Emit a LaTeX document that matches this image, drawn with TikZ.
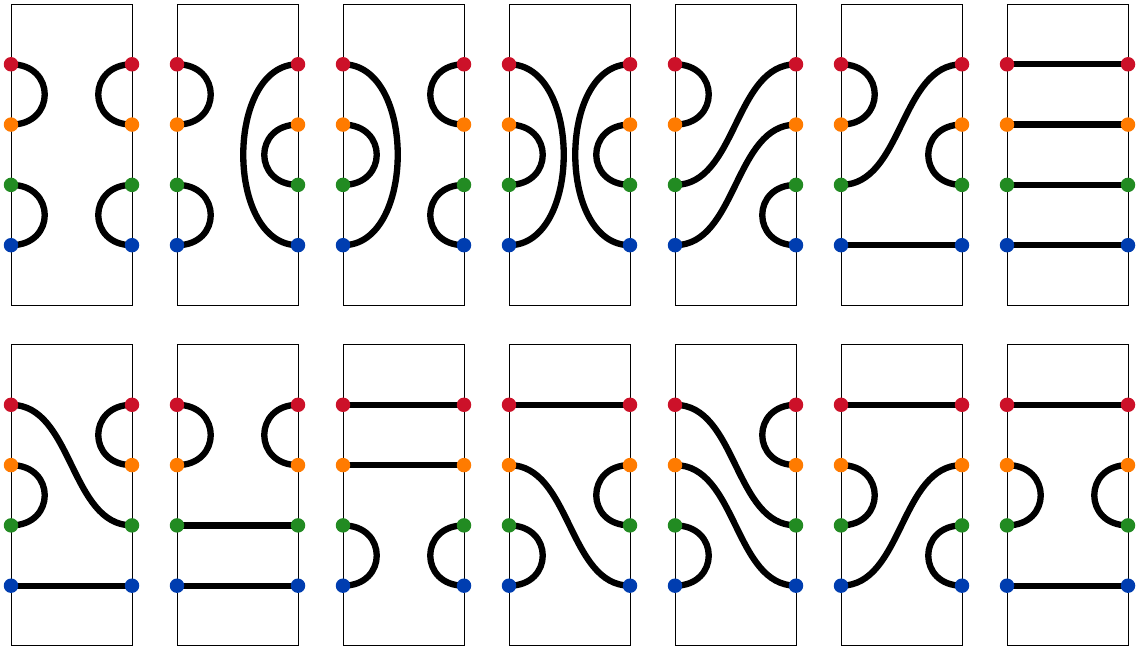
\documentclass[tikz,border=0pt]{standalone}
\usetikzlibrary{backgrounds}
\definecolor{pinred}{RGB}{204,17,41}
\definecolor{pinorange}{RGB}{255,123,0}
\definecolor{pingreen}{RGB}{34,139,34}
\definecolor{pinblue}{RGB}{0,61,176}
\tikzset{
	frame/.style={draw=black, line width=0.5pt},
	dot/.style={circle, fill=#1, inner sep=0pt, minimum size=0.29cm},
	strand/.style={draw=black, line width=3.6pt},
}
\begin{document}
\begin{tikzpicture}[x=0.02cm, y=-0.02cm]
	\useasboundingbox (0,0) rectangle (1136,651);
	% Frames and pins:
	\foreach \n in {1,...,14}{
		\pgfmathtruncatemacro{\c}{mod(\n-1,7)}
		\pgfmathtruncatemacro{\r}{div(\n-1,7)}
		\pgfmathsetmacro{\xa}{11+166*\c}
		\pgfmathsetmacro{\ya}{4+340.5*\r}
		\begin{pgfonlayer}{background}
			\draw[frame] (\xa,\ya) rectangle +(121,301);
		\end{pgfonlayer}
		\foreach \k/\col in {1/pinred, 2/pinorange, 3/pingreen, 4/pinblue}{
			\node[dot=\col] (p\n l\k) at (\xa, \ya+60.3*\k) {};
			\node[dot=\col] (p\n r\k) at (\xa+121, \ya+60.3*\k) {};
		}
	}
	% Strands:
	\begin{pgfonlayer}{background}
	% 1
	\draw[strand] (p1l1.center) .. controls +(45,0) and +(45,0) .. (p1l2.center);
	\draw[strand] (p1l3.center) .. controls +(45,0) and +(45,0) .. (p1l4.center);
	\draw[strand] (p1r1.center) .. controls +(-45,0) and +(-45,0) .. (p1r2.center);
	\draw[strand] (p1r3.center) .. controls +(-45,0) and +(-45,0) .. (p1r4.center);
	% 2
	\draw[strand] (p2l1.center) .. controls +(45,0) and +(45,0) .. (p2l2.center);
	\draw[strand] (p2l3.center) .. controls +(45,0) and +(45,0) .. (p2l4.center);
	\draw[strand] (p2r1.center) .. controls +(-73,0) and +(-73,0) .. (p2r4.center);
	\draw[strand] (p2r2.center) .. controls +(-45,0) and +(-45,0) .. (p2r3.center);
	% 3
	\draw[strand] (p3l1.center) .. controls +(73,0) and +(73,0) .. (p3l4.center);
	\draw[strand] (p3l2.center) .. controls +(45,0) and +(45,0) .. (p3l3.center);
	\draw[strand] (p3r1.center) .. controls +(-45,0) and +(-45,0) .. (p3r2.center);
	\draw[strand] (p3r3.center) .. controls +(-45,0) and +(-45,0) .. (p3r4.center);
	% 4
	\draw[strand] (p4l1.center) .. controls +(73,0) and +(73,0) .. (p4l4.center);
	\draw[strand] (p4l2.center) .. controls +(45,0) and +(45,0) .. (p4l3.center);
	\draw[strand] (p4r1.center) .. controls +(-73,0) and +(-73,0) .. (p4r4.center);
	\draw[strand] (p4r2.center) .. controls +(-45,0) and +(-45,0) .. (p4r3.center);
	% 5
	\draw[strand] (p5l1.center) .. controls +(45,0) and +(45,0) .. (p5l2.center);
	\draw[strand] (p5l3.center) .. controls +(62,0) and +(-62,0) .. (p5r1.center);
	\draw[strand] (p5l4.center) .. controls +(62,0) and +(-62,0) .. (p5r2.center);
	\draw[strand] (p5r3.center) .. controls +(-45,0) and +(-45,0) .. (p5r4.center);
	% 6
	\draw[strand] (p6l1.center) .. controls +(45,0) and +(45,0) .. (p6l2.center);
	\draw[strand] (p6l3.center) .. controls +(62,0) and +(-62,0) .. (p6r1.center);
	\draw[strand] (p6r2.center) .. controls +(-45,0) and +(-45,0) .. (p6r3.center);
	\draw[strand] (p6l4.center) -- (p6r4.center);
	% 7
	\foreach \k in {1,...,4}
		\draw[strand] (p7l\k.center) -- (p7r\k.center);
	% 8
	\draw[strand] (p8l1.center) .. controls +(62,0) and +(-62,0) .. (p8r3.center);
	\draw[strand] (p8r1.center) .. controls +(-45,0) and +(-45,0) .. (p8r2.center);
	\draw[strand] (p8l2.center) .. controls +(45,0) and +(45,0) .. (p8l3.center);
	\draw[strand] (p8l4.center) -- (p8r4.center);
	% 9
	\draw[strand] (p9l1.center) .. controls +(45,0) and +(45,0) .. (p9l2.center);
	\draw[strand] (p9r1.center) .. controls +(-45,0) and +(-45,0) .. (p9r2.center);
	\draw[strand] (p9l3.center) -- (p9r3.center);
	\draw[strand] (p9l4.center) -- (p9r4.center);
	% 10
	\draw[strand] (p10l1.center) -- (p10r1.center);
	\draw[strand] (p10l2.center) -- (p10r2.center);
	\draw[strand] (p10l3.center) .. controls +(45,0) and +(45,0) .. (p10l4.center);
	\draw[strand] (p10r3.center) .. controls +(-45,0) and +(-45,0) .. (p10r4.center);
	% 11
	\draw[strand] (p11l1.center) -- (p11r1.center);
	\draw[strand] (p11l2.center) .. controls +(62,0) and +(-62,0) .. (p11r4.center);
	\draw[strand] (p11r2.center) .. controls +(-45,0) and +(-45,0) .. (p11r3.center);
	\draw[strand] (p11l3.center) .. controls +(45,0) and +(45,0) .. (p11l4.center);
	% 12
	\draw[strand] (p12l1.center) .. controls +(62,0) and +(-62,0) .. (p12r3.center);
	\draw[strand] (p12l2.center) .. controls +(62,0) and +(-62,0) .. (p12r4.center);
	\draw[strand] (p12r1.center) .. controls +(-45,0) and +(-45,0) .. (p12r2.center);
	\draw[strand] (p12l3.center) .. controls +(45,0) and +(45,0) .. (p12l4.center);
	% 13
	\draw[strand] (p13l1.center) -- (p13r1.center);
	\draw[strand] (p13l2.center) .. controls +(45,0) and +(45,0) .. (p13l3.center);
	\draw[strand] (p13l4.center) .. controls +(62,0) and +(-62,0) .. (p13r2.center);
	\draw[strand] (p13r3.center) .. controls +(-45,0) and +(-45,0) .. (p13r4.center);
	% 14
	\draw[strand] (p14l1.center) -- (p14r1.center);
	\draw[strand] (p14l4.center) -- (p14r4.center);
	\draw[strand] (p14l2.center) .. controls +(45,0) and +(45,0) .. (p14l3.center);
	\draw[strand] (p14r2.center) .. controls +(-45,0) and +(-45,0) .. (p14r3.center);
	\end{pgfonlayer}
\end{tikzpicture}
\end{document}
